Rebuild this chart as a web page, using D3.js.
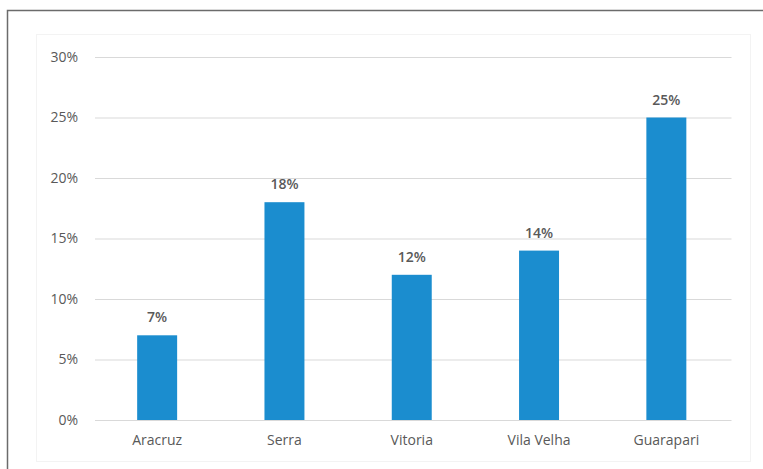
<!DOCTYPE html>
<html><head><meta charset="utf-8">
<script src="https://cdn.jsdelivr.net/npm/d3@7"></script>
<style>body{margin:0;background:#fff}svg{display:block}</style>
</head><body>
<script>
const categories = ["Aracruz","Serra","Vitoria","Vila Velha","Guarapari"];
const values = [7,18,12,14,25];
const yTicks = [0,5,10,15,20,25,30];

const W=763,H=469;
const svg=d3.select("body").append("svg").attr("width",W).attr("height",H);
svg.append("rect").attr("width",W).attr("height",H).attr("fill","#fff");
// outer frame (left and top)
svg.append("path").attr("d",`M7.5,${H} V10.5 H${W}`).attr("fill","none").attr("stroke","#6b6b6b").attr("stroke-width",1.5);
// faint chart area border
svg.append("rect").attr("x",36.5).attr("y",34.5).attr("width",714).attr("height",427).attr("fill","none").attr("stroke","#f3f3f3");

const x=d3.scaleBand().domain(categories).range([93.5,730]).paddingInner(0.686).paddingOuter(0.343);
const y=d3.scaleLinear().domain([0,30]).range([420,57]);

const font="'Open Sans', 'Noto Sans', sans-serif";
const gy=svg.append("g").attr("transform","translate(95,0)")
  .call(d3.axisLeft(y).tickValues(yTicks).tickSize(-636.5).tickPadding(17).tickFormat(d=>d+"%"));
gy.select(".domain").remove();
gy.selectAll(".tick line").attr("stroke","#d9d9d9").attr("stroke-width",1);
gy.selectAll(".tick text").attr("fill","#595959").style("font-family",font).style("font-size","14px");

const gx=svg.append("g").attr("transform","translate(0,420)")
  .call(d3.axisBottom(x).tickSize(0).tickPadding(15));
gx.select(".domain").remove();
gx.selectAll(".tick text").attr("fill","#595959").style("font-family",font).style("font-size","14px");

svg.selectAll(".bar").data(values).join("rect").attr("class","bar")
  .attr("x",(d,i)=>x(categories[i])).attr("width",x.bandwidth())
  .attr("y",d=>y(d)).attr("height",d=>y(0)-y(d)).attr("fill","#1B8DCF");

svg.selectAll(".lbl").data(values).join("text").attr("class","lbl")
  .attr("x",(d,i)=>x(categories[i])+x.bandwidth()/2).attr("y",d=>y(d)-13)
  .attr("text-anchor","middle").attr("fill","#595959")
  .style("font-family",font).style("font-size","14px").style("font-weight","600")
  .text(d=>d+"%");
</script>
</body></html>
